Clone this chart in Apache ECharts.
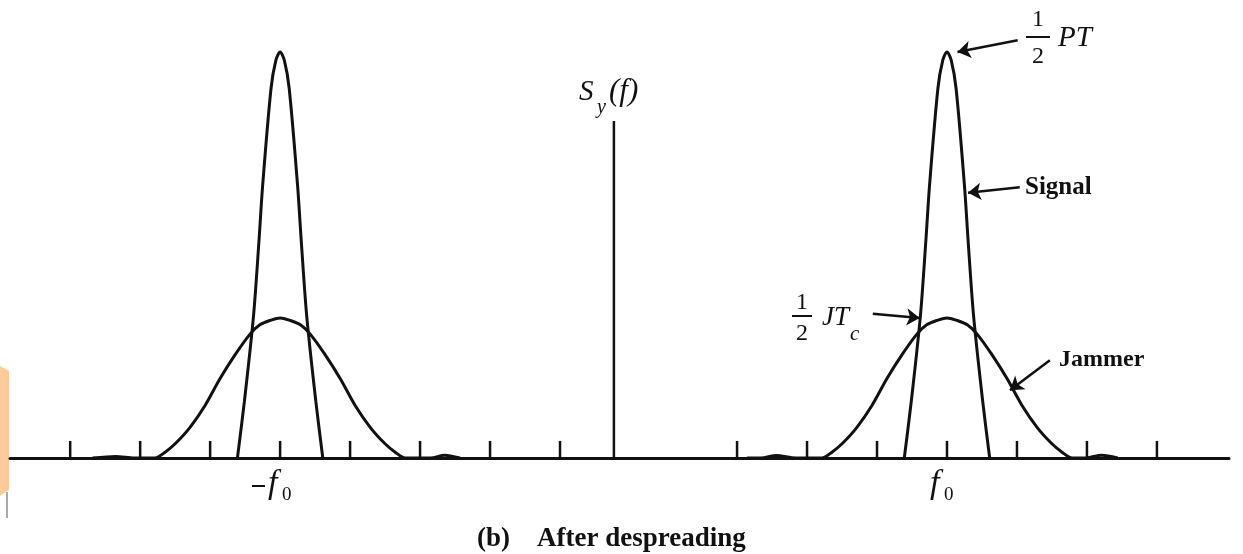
<!DOCTYPE html>
<html>
<head>
<meta charset="utf-8">
<script src="https://cdn.jsdelivr.net/npm/echarts@6/dist/echarts.min.js"></script>
<style>
  html, body { margin: 0; padding: 0; background: #fff; }
  #chart { width: 1243px; height: 554px; }
</style>
</head>
<body>
<div id="chart"></div>
<script>
// frequency in tick units (0 = centre), height in % of the signal peak
const TICKS = [-7.77, -6.77, -5.77, -4.77, -3.77, -2.77, -1.77, -0.77,
               1.76, 2.76, 3.76, 4.76, 5.76, 6.76, 7.76];
const TICK_H = 4.2;
const SY_TOP = 83;

const SIGNAL_NEG = [[-5.38, 0], [-5.28, 14], [-5.15, 35], [-5.07, 54], [-5.02, 67],
  [-4.90, 91], [-4.83, 98], [-4.77, 100], [-4.71, 98], [-4.64, 91], [-4.52, 67],
  [-4.47, 54], [-4.39, 35], [-4.26, 14], [-4.16, 0]];
const SIGNAL_POS = [[4.15, 0], [4.25, 14], [4.38, 35], [4.46, 54], [4.51, 67],
  [4.63, 91], [4.70, 98], [4.76, 100], [4.82, 98], [4.89, 91], [5.01, 67],
  [5.06, 54], [5.14, 35], [5.27, 14], [5.37, 0]];

const JAMMER_NEG = [[-7.45, 0], [-7.12, 0.4], [-6.85, 0], [-6.56, 0], [-6.41, 1.5],
  [-6.27, 3.5], [-6.06, 7.5], [-5.84, 13], [-5.63, 19.5], [-5.41, 25.5], [-5.20, 30.5],
  [-5.06, 32.8], [-4.91, 33.9], [-4.77, 34.5], [-4.63, 33.9], [-4.48, 32.8],
  [-4.34, 30.5], [-4.13, 25.5], [-3.91, 19.5], [-3.70, 13], [-3.48, 7.5],
  [-3.27, 3.5], [-3.13, 1.5], [-2.98, 0], [-2.62, 0], [-2.42, 0.7], [-2.2, 0]];
const JAMMER_POS = [[1.9, 0], [2.1, 0], [2.32, 0.6], [2.6, 0], [2.97, 0], [3.12, 1.5],
  [3.26, 3.5], [3.47, 7.5], [3.69, 13], [3.90, 19.5], [4.12, 25.5], [4.33, 30.5],
  [4.47, 32.8], [4.62, 33.9], [4.76, 34.5], [4.90, 33.9], [5.05, 32.8], [5.19, 30.5],
  [5.40, 25.5], [5.62, 19.5], [5.83, 13], [6.05, 7.5], [6.26, 3.5], [6.40, 1.5],
  [6.55, 0], [6.75, 0], [6.97, 0.7], [7.2, 0]];

// annotation arrows: [from, to]
const ARROWS = [
  [[5.77, 102.9], [4.91, 100]],   // 1/2 PT
  [[5.80, 66.7], [5.06, 65.3]],   // Signal
  [[3.70, 35.5], [4.37, 34.5]],   // 1/2 JTc
  [[6.23, 24.1], [5.66, 16.7]]    // Jammer
];

const SERIF = '"Liberation Serif", "DejaVu Serif", serif';
const chart = echarts.init(document.getElementById('chart'));

const curve = (data) => ({
  type: 'line',
  data: data,
  smooth: 0.3,
  symbol: 'none',
  silent: true,
  lineStyle: { color: '#111', width: 3 },
  z: 3
});

function txt(x, y, text, size, opts) {
  opts = opts || {};
  return {
    type: 'text', x: x, y: y, silent: true, z: 10,
    style: {
      text: text,
      font: (opts.style || '') + ' ' + (opts.weight || 'normal') + ' ' + size + 'px ' + SERIF,
      fill: '#111',
      textAlign: opts.align || 'left',
      textVerticalAlign: 'middle'
    }
  };
}
function bar(x1, x2, y, w) {
  return { type: 'line', silent: true, z: 10,
    shape: { x1: x1, y1: y, x2: x2, y2: y },
    style: { stroke: '#111', lineWidth: w || 2 } };
}

const option = {
  backgroundColor: '#fff',
  animation: false,
  grid: { left: 10, right: 14, top: 0, bottom: 96 },
  xAxis: {
    type: 'value', min: -8.63, max: 8.79,
    axisLine: { show: true, onZero: true, lineStyle: { color: '#111', width: 3 } },
    axisTick: { show: false }, axisLabel: { show: false }, splitLine: { show: false }
  },
  yAxis: {
    type: 'value', min: 0, max: 112.8, show: false
  },
  series: [
    curve(SIGNAL_NEG), curve(SIGNAL_POS), curve(JAMMER_NEG), curve(JAMMER_POS),
    {
      type: 'custom',
      silent: true,
      data: TICKS.map(t => [t]),
      renderItem: (params, api) => {
        const p0 = api.coord([api.value(0), 0]);
        const p1 = api.coord([api.value(0), TICK_H]);
        return { type: 'line', shape: { x1: p0[0], y1: p0[1], x2: p1[0], y2: p1[1] },
          style: { stroke: '#111', lineWidth: 2.5 } };
      },
      z: 2
    },
    {
      type: 'line', data: [[0, 0], [0, SY_TOP]], symbol: 'none', silent: true,
      lineStyle: { color: '#111', width: 2.5 }
    },
    {
      type: 'lines',
      coordinateSystem: 'cartesian2d',
      silent: true,
      symbol: ['none', 'arrow'],
      symbolSize: 13,
      lineStyle: { color: '#111', width: 2.5, opacity: 1 },
      data: ARROWS.map(a => ({ coords: a })),
      z: 5
    }
  ],
  graphic: [
    { type: 'polygon', silent: true, shape: { points: [[0, 366], [9, 371], [9, 490], [0, 496]] },
      style: { fill: '#FFCC99' } },
    { type: 'line', silent: true, shape: { x1: 7, y1: 492, x2: 7, y2: 518 },
      style: { stroke: '#aaa', lineWidth: 2 } },
    // S_y(f)
    txt(579, 92, 'S', 29, { style: 'italic' }),
    txt(597, 108, 'y', 20, { style: 'italic' }),
    txt(609, 92, '(f)', 31, { style: 'italic' }),
    // 1/2 PT
    txt(1038, 20, '1', 24, { align: 'center' }),
    bar(1026, 1050, 37),
    txt(1038, 57, '2', 24, { align: 'center' }),
    txt(1058, 38, 'PT', 29, { style: 'italic' }),
    // Signal
    txt(1025, 188, 'Signal', 25, { weight: 'bold' }),
    // 1/2 JTc
    txt(802, 303, '1', 24, { align: 'center' }),
    bar(792, 812, 316),
    txt(802, 334, '2', 24, { align: 'center' }),
    txt(822, 318, 'JT', 27, { style: 'italic' }),
    txt(850, 334, 'c', 21, { style: 'italic' }),
    // -f0, f0
    bar(252, 265, 486, 2),
    txt(268, 484, 'f', 34, { style: 'italic' }),
    txt(282, 495, '0', 19),
    txt(930, 484, 'f', 34, { style: 'italic' }),
    txt(944, 495, '0', 19),
    // Jammer
    txt(1059, 360, 'Jammer', 24, { weight: 'bold' }),
    // caption
    txt(477, 539, '(b)    After despreading', 27, { weight: 'bold' })
  ]
};

chart.setOption(option);
</script>
</body>
</html>
